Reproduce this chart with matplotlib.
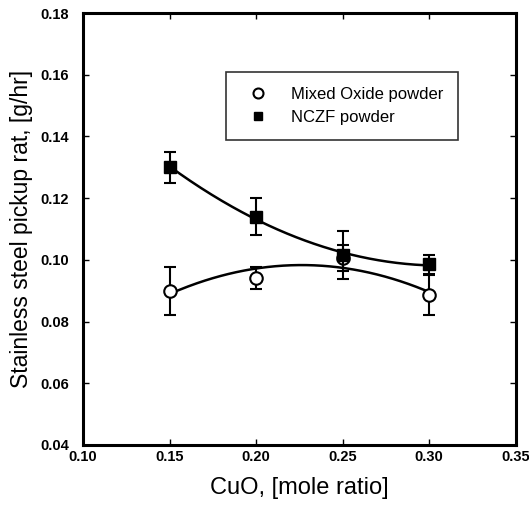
import numpy as np
import matplotlib
matplotlib.use("Agg")
import matplotlib.pyplot as plt

plt.rcParams['font.family'] = ['Liberation Sans', 'DejaVu Sans']

# data
cuo = [0.15, 0.20, 0.25, 0.30]
mixed = [0.090, 0.094, 0.1006, 0.0885]
mixed_err = [0.0078, 0.0036, 0.0042, 0.0065]
nczf = [0.130, 0.114, 0.1015, 0.0985]
nczf_err = [0.005, 0.006, 0.0078, 0.003]

xticks = [0.10, 0.15, 0.20, 0.25, 0.30, 0.35]
yticks = [0.04, 0.06, 0.08, 0.10, 0.12, 0.14, 0.16, 0.18]

fig = plt.figure(figsize=(5.29, 5.05), dpi=100)
ax = fig.add_axes([0.157, 0.119, 0.818, 0.855])

# 2nd order fits through the points
xs = np.linspace(0.15, 0.30, 200)
p1 = np.polyfit(cuo, mixed, 2)
p2 = np.polyfit(cuo, nczf, 2)
ax.plot(xs, np.polyval(p1, xs), color='black', lw=1.8, zorder=2)
ax.plot(xs, np.polyval(p2, xs), color='black', lw=1.8, zorder=2)

ax.errorbar(cuo, mixed, yerr=mixed_err, fmt='o', mfc='white', mec='black',
            mew=1.5, ms=9, ecolor='black', elinewidth=1.5, capsize=4.5,
            capthick=1.5, label='Mixed Oxide powder', zorder=3)
ax.errorbar(cuo, nczf, yerr=nczf_err, fmt='s', mfc='black', mec='black',
            ms=8, ecolor='black', elinewidth=1.5, capsize=4.5,
            capthick=1.5, label='NCZF powder', zorder=4)

ax.set_xlim(0.10, 0.35)
ax.set_ylim(0.04, 0.18)
ax.set_xticks(xticks)
ax.set_yticks(yticks)
ax.set_xticklabels(['%.2f' % v for v in xticks], fontweight='bold', fontsize=10.5)
ax.set_yticklabels(['%.2f' % v for v in yticks], fontweight='bold', fontsize=10.5)
ax.tick_params(direction='in', top=True, right=True, length=4, width=1)
ax.tick_params(axis='y', pad=10)
ax.tick_params(axis='x', pad=4)
for s in ax.spines.values():
    s.set_linewidth(2.2)

ax.set_xlabel('CuO, [mole ratio]', fontsize=17, labelpad=9)
ax.set_ylabel('Stainless steel pickup rat, [g/hr]', fontsize=16.5, labelpad=5)

handles, labels = ax.get_legend_handles_labels()
handles = [h[0] for h in handles]
leg = ax.legend(handles, labels, loc='upper left', bbox_to_anchor=(0.33, 0.863),
                borderaxespad=0, fontsize=12, frameon=True, fancybox=False,
                edgecolor='black', borderpad=0.9, handletextpad=1.0,
                labelspacing=0.45, markerscale=0.8)
leg.get_frame().set_linewidth(1.2)

plt.savefig('out.png', dpi=100)
